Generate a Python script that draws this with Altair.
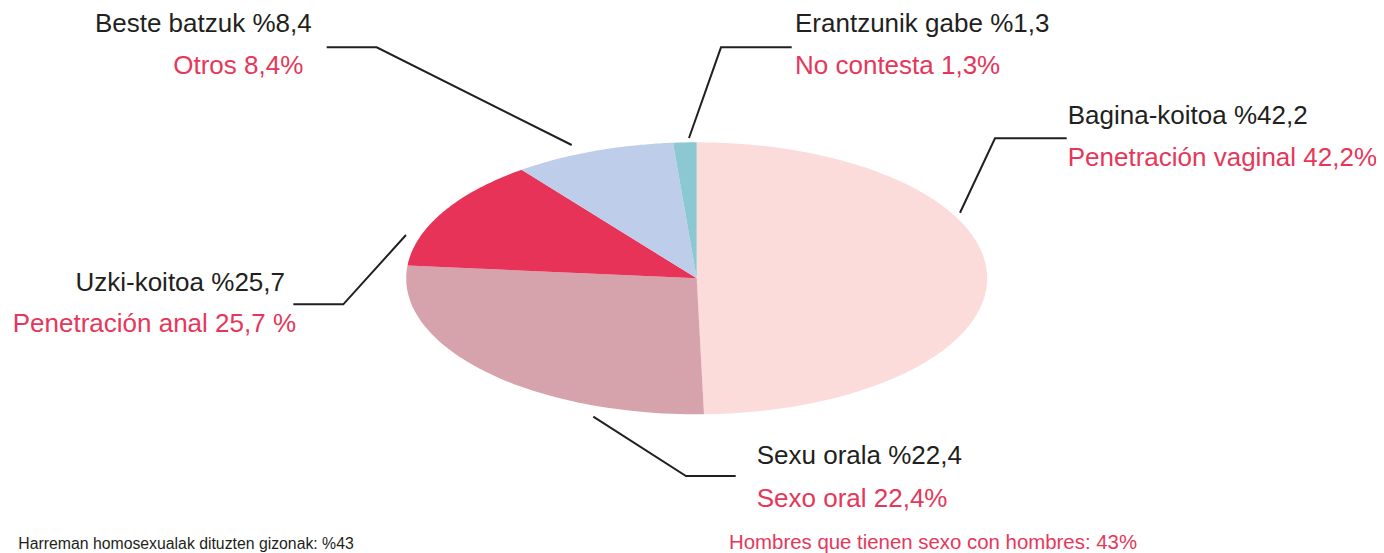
import altair as alt
import pandas as pd

# ---------------- data ----------------
categories = ["Bagina-koitoa", "Sexu orala", "Uzki-koitoa", "Beste batzuk", "Erantzunik gabe"]
categories_es = ["Penetración vaginal", "Sexo oral", "Penetración anal", "Otros", "No contesta"]
label_values = [42.2, 22.4, 25.7, 8.4, 1.3]
slice_shares = [49.6, 26.9, 13.2, 9.0, 1.3]
labels_eu = ["Bagina-koitoa %42,2", "Sexu orala %22,4", "Uzki-koitoa %25,7",
             "Beste batzuk %8,4", "Erantzunik gabe %1,3"]
labels_es = ["Penetración vaginal 42,2%", "Sexo oral 22,4%", "Penetración anal 25,7 %",
             "Otros 8,4%", "No contesta 1,3%"]
footer_eu = "Harreman homosexualak dituzten gizonak: %43"
footer_es = "Hombres que tienen sexo con hombres: 43%"

# ---------------- styles / layout ----------------
slice_colors = ["#fbdcdb", "#d6a2ac", "#e73358", "#bdcdea", "#8cc8d2"]
BLACK = "#231f20"
RED = "#e6375a"
FONT = "Liberation Sans, Arial, sans-serif"

W, H = 1368, 545
CX, CY, RX, RY = 696.7, 278.3, 290.5, 136.0  # ellipse centre / radii (page px)


def ux(px):
    return (px - CX) / RX


def uy(py):
    return (CY - py) / RY


x_scale = alt.Scale(domain=[ux(8), ux(8 + W)], nice=False, zero=False)
y_scale = alt.Scale(domain=[uy(8 + H), uy(8)], nice=False, zero=False)

# label layout (page px): text anchor, alignment, leader polyline
label_layout = {
    "Bagina-koitoa": dict(tx=1067.7, ty1=124.3, ty2=166.0, align="left",
                          leader=[(1066.7, 138.3), (995, 138.3), (960, 212.7)]),
    "Sexu orala": dict(tx=756.7, ty1=464.0, ty2=506.7, align="left",
                       leader=[(735.7, 476), (686, 476), (593.3, 416.7)]),
    "Uzki-koitoa": dict(tx=285.0, ty1=291.0, ty2=331.7, align="right", tx2=296.0,
                        leader=[(293.3, 304.3), (343.3, 304.3), (406, 235)]),
    "Beste batzuk": dict(tx=311.7, ty1=32.3, ty2=74.0, align="right", tx2=303.3,
                         leader=[(326.7, 47.3), (376.7, 47.3), (571.7, 145)]),
    "Erantzunik gabe": dict(tx=795.0, ty1=32.3, ty2=74.0, align="left",
                            leader=[(791.7, 47.3), (721, 47.3), (689, 138)]),
}

# ---------------- pie (squashed into an ellipse) ----------------
N = 60
slices = pd.DataFrame({"cat": categories, "share": slice_shares,
                       "value": label_values, "ord": list(range(len(categories)))})

pie = alt.Chart(slices).transform_window(
    cum="sum(share)", sort=[alt.SortField("ord")], frame=[None, 0]
).transform_joinaggregate(
    total="sum(share)"
).transform_calculate(
    a0="2*PI*(datum.cum - datum.share)/datum.total",
    a1="2*PI*datum.cum/datum.total",
    steps=f"sequence(0, {N + 2})",
).transform_flatten(
    ["steps"], as_=["k"]
).transform_calculate(
    ang=f"datum.a0 + (datum.a1 - datum.a0)*(datum.k - 1)/{N}",
    ex="datum.k == 0 ? 0 : sin(datum.ang)",
    ey="datum.k == 0 ? 0 : cos(datum.ang)",
).mark_line(filled=True, interpolate="linear").encode(
    x=alt.X("ex:Q", scale=x_scale, axis=None),
    y=alt.Y("ey:Q", scale=y_scale, axis=None),
    order=alt.Order("k:Q"),
    color=alt.Color("cat:N", scale=alt.Scale(domain=categories, range=slice_colors), legend=None),
)

# ---------------- leader lines ----------------
lead_rows = []
for cat in categories:
    for i, (px, py) in enumerate(label_layout[cat]["leader"]):
        lead_rows.append({"cat": cat, "seq": i, "lx": ux(px), "ly": uy(py)})
leaders = alt.Chart(pd.DataFrame(lead_rows)).mark_line(
    color=BLACK, strokeWidth=2
).encode(
    x=alt.X("lx:Q", scale=x_scale, axis=None),
    y=alt.Y("ly:Q", scale=y_scale, axis=None),
    detail="cat:N",
    order="seq:Q",
)

# ---------------- text labels ----------------
text_rows = []
for cat, eu, es in zip(categories, labels_eu, labels_es):
    lay = label_layout[cat]
    text_rows.append({"t": eu, "tx": ux(lay["tx"]), "ty": uy(lay["ty1"]),
                      "c": BLACK, "align": lay["align"]})
    text_rows.append({"t": es, "tx": ux(lay.get("tx2", lay["tx"])), "ty": uy(lay["ty2"]),
                      "c": RED, "align": lay["align"]})
texts = pd.DataFrame(text_rows)


def text_layer(df, align, font, size):
    return alt.Chart(df).mark_text(
        align=align, baseline="alphabetic", font=font, fontSize=size
    ).encode(
        x=alt.X("tx:Q", scale=x_scale, axis=None),
        y=alt.Y("ty:Q", scale=y_scale, axis=None),
        text="t:N",
        color=alt.Color("c:N", scale=None),
    )


left_txt = text_layer(texts[texts["align"] == "left"], "left", FONT, 26)
right_txt = text_layer(texts[texts["align"] == "right"], "right", FONT, 26)

foot_eu = text_layer(pd.DataFrame([{"t": footer_eu, "tx": ux(18.3), "ty": uy(549), "c": BLACK}]),
                     "left", FONT, 15.8)
foot_es = text_layer(pd.DataFrame([{"t": footer_es, "tx": ux(729), "ty": uy(549), "c": RED}]),
                     "left", FONT, 20.4)

chart = alt.layer(pie, leaders, left_txt, right_txt, foot_eu, foot_es).properties(
    width=W, height=H, padding=0, autosize=alt.AutoSizeParams(type="none"),
    background="white",
).configure_view(stroke=None)

chart.save("out.html", embed_options={"renderer": "svg", "actions": False})
